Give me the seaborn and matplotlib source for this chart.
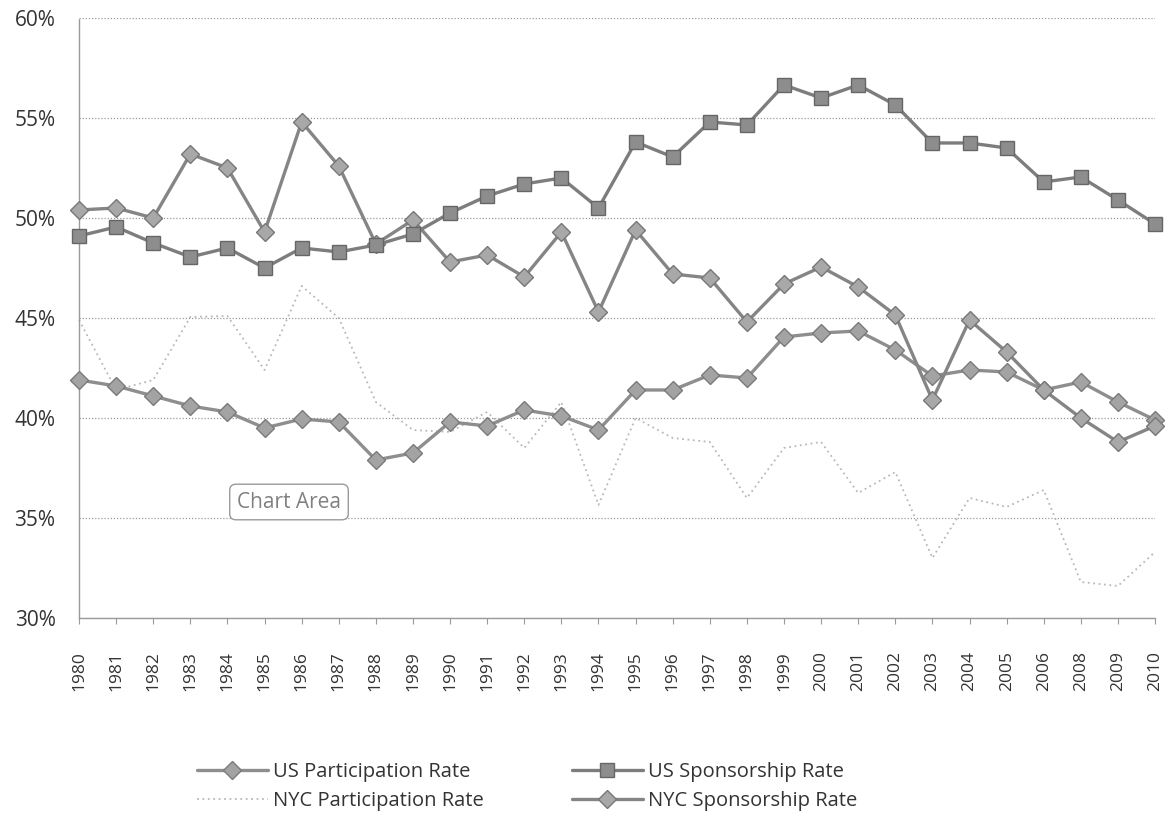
import numpy as np
import pandas as pd
import matplotlib
matplotlib.use("Agg")
import matplotlib.pyplot as plt
import seaborn as sns
from matplotlib.ticker import FuncFormatter, FixedLocator

# Survey years (no 2007 observation)
years = ["1980", "1981", "1982", "1983", "1984", "1985", "1986", "1987", "1988", "1989",
         "1990", "1991", "1992", "1993", "1994", "1995", "1996", "1997", "1998", "1999",
         "2000", "2001", "2002", "2003", "2004", "2005", "2006", "2008", "2009", "2010"]

# Rates in percent
us_participation = [41.9, 41.6, 41.1, 40.6, 40.3, 39.5, 39.95, 39.8, 37.9, 38.25,
                    39.8, 39.6, 40.4, 40.1, 39.4, 41.4, 41.4, 42.15, 42.0, 44.05,
                    44.25, 44.35, 43.4, 42.1, 42.4, 42.3, 41.4, 41.8, 40.8, 39.9]
us_sponsorship = [49.1, 49.55, 48.75, 48.05, 48.5, 47.5, 48.5, 48.3, 48.65, 49.2,
                  50.25, 51.1, 51.7, 52.0, 50.5, 53.8, 53.05, 54.8, 54.65, 56.65,
                  56.0, 56.65, 55.65, 53.75, 53.75, 53.5, 51.8, 52.05, 50.9, 49.7]
nyc_participation = [44.9, 41.4, 41.9, 45.05, 45.1, 42.4, 46.6, 45.0, 40.8, 39.4,
                     39.3, 40.3, 38.5, 40.8, 35.65, 40.0, 39.0, 38.8, 36.0, 38.5,
                     38.8, 36.25, 37.3, 33.0, 36.0, 35.55, 36.4, 31.8, 31.6, 33.3]
nyc_sponsorship = [50.4, 50.5, 50.0, 53.2, 52.5, 49.3, 54.8, 52.6, 48.7, 49.9,
                   47.8, 48.15, 47.05, 49.3, 45.3, 49.4, 47.2, 47.0, 44.8, 46.7,
                   47.55, 46.55, 45.15, 40.9, 44.9, 43.3, 41.4, 40.0, 38.8, 39.6]

series_names = ["US Participation Rate", "NYC Participation Rate",
                "US Sponsorship Rate", "NYC Sponsorship Rate"]
series_values = [us_participation, nyc_participation, us_sponsorship, nyc_sponsorship]

sns.set_theme(style="white")
plt.rcParams["font.family"] = ["Open Sans", "DejaVu Sans"]

fig = plt.figure(figsize=(11.66, 8.17), dpi=100)
ax = fig.add_axes([0.0678, 0.2436, 0.9228, 0.7344])

pos = np.arange(len(years))
frames = []
for name, vals in zip(series_names, series_values):
    frames.append(pd.DataFrame({"pos": pos, "rate": np.array(vals) / 100.0, "series": name}))
df = pd.concat(frames, ignore_index=True)

styles = {
    "US Participation Rate": dict(color="#8e8e8e", lw=2.4, marker="D", ms=9,
                                  mfc="#a3a3a3", mec="#7a7a7a", mew=1.0, ls="-", z=3),
    "NYC Participation Rate": dict(color="#b8b8b8", lw=1.3, marker=None, ms=0,
                                   mfc="none", mec="none", mew=0, ls=(0, (1, 2)), z=2),
    "US Sponsorship Rate": dict(color="#7d7d7d", lw=2.4, marker="s", ms=10,
                                mfc="#8d8d8d", mec="#666666", mew=1.0, ls="-", z=4),
    "NYC Sponsorship Rate": dict(color="#858585", lw=2.4, marker="D", ms=9,
                                 mfc="#a8a8a8", mec="#777777", mew=1.0, ls="-", z=3),
}

for name in series_names:
    st = styles[name]
    sub = df[df["series"] == name]
    sns.lineplot(data=sub, x="pos", y="rate", ax=ax, label=name, color=st["color"],
                 linewidth=st["lw"], errorbar=None, sort=True)
    line = ax.lines[-1]
    line.set_linestyle(st["ls"])
    if st["marker"]:
        line.set_marker(st["marker"])
        line.set_markersize(st["ms"])
        line.set_markerfacecolor(st["mfc"])
        line.set_markeredgecolor(st["mec"])
        line.set_markeredgewidth(st["mew"])
    line.set_zorder(st["z"])
    line.set_clip_on(False)

ax.set_xlim(0, len(years) - 1)
ax.set_ylim(0.30, 0.60)
ax.yaxis.set_major_locator(FixedLocator([0.30, 0.35, 0.40, 0.45, 0.50, 0.55, 0.60]))
ax.yaxis.set_major_formatter(FuncFormatter(lambda v, _: f"{v * 100:.0f}%"))
ax.set_xticks(pos)
ax.set_xticklabels(years, rotation=90)
ax.set_xlabel("")
ax.set_ylabel("")

ax.grid(axis="y", color="#9a9a9a", linestyle=(0, (1, 1.5)), linewidth=0.9)
ax.grid(axis="x", visible=False)
for side in ["top", "right"]:
    ax.spines[side].set_visible(False)
for side in ["left", "bottom"]:
    ax.spines[side].set_color("#9a9a9a")
    ax.spines[side].set_linestyle((0, (1, 1)))
    ax.spines[side].set_linewidth(1.0)

ax.tick_params(axis="y", length=0, pad=17, labelsize=15, labelcolor="#333333")
ax.tick_params(axis="x", length=4, width=0.8, color="#9a9a9a", pad=20,
               labelsize=12.5, labelcolor="#333333", bottom=True)

handles, labels = ax.get_legend_handles_labels()
ax.get_legend().remove()
fig.legend(handles, labels, loc="center", bbox_to_anchor=(0.452, 0.0373), ncol=2,
           frameon=False, fontsize=14.5, handlelength=3.5, columnspacing=4.4,
           labelspacing=0.4, handletextpad=0.25, labelcolor="#333333")

fig.text(289 / 1166, 1 - 502 / 817, "Chart Area", ha="center", va="center",
         fontsize=15, color="#808080",
         bbox=dict(boxstyle="round,pad=0.35,rounding_size=0.3", fc="white",
                   ec="#9a9a9a", lw=1.0))

fig.savefig("out.png", dpi=100)
